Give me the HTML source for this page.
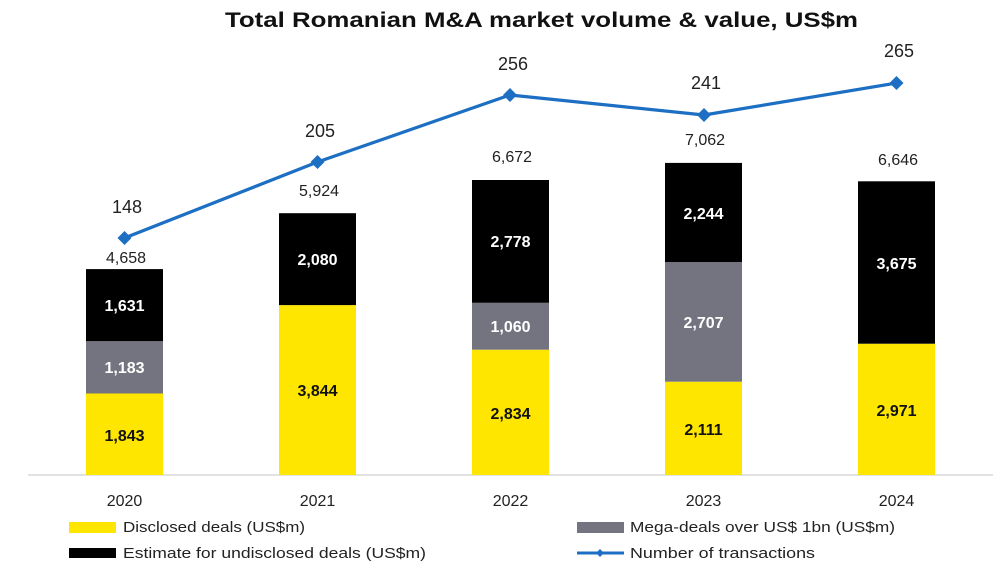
<!DOCTYPE html>
<html>
<head>
<meta charset="utf-8">
<style>
html,body{margin:0;padding:0;background:#fff;}
svg{display:block;}
text{font-family:"Liberation Sans",sans-serif;}
</style>
</head>
<body>
<svg width="1000" height="562" viewBox="0 0 1000 562" xmlns="http://www.w3.org/2000/svg">
<rect width="1000" height="562" fill="#fff"/>
<text x="225" y="27" font-size="21" font-weight="bold" fill="#111" textLength="633" lengthAdjust="spacingAndGlyphs">Total Romanian M&amp;A market volume &amp; value, US$m</text>

<!-- axis -->
<line x1="28" y1="475" x2="993" y2="475" stroke="#d9d9d9" stroke-width="1.5"/>

<!-- 2020 -->
<rect x="86" y="393.5" width="77" height="81.5" fill="#FFE600"/>
<rect x="86" y="341.2" width="77" height="52.3" fill="#747480"/>
<rect x="86" y="269.1" width="77" height="72.1" fill="#000"/>
<!-- 2021 -->
<rect x="279" y="305.1" width="77" height="169.9" fill="#FFE600"/>
<rect x="279" y="213.2" width="77" height="91.9" fill="#000"/>
<!-- 2022 -->
<rect x="472" y="349.7" width="77" height="125.3" fill="#FFE600"/>
<rect x="472" y="302.8" width="77" height="46.9" fill="#747480"/>
<rect x="472" y="180" width="77" height="122.8" fill="#000"/>
<!-- 2023 -->
<rect x="665" y="381.7" width="77" height="93.3" fill="#FFE600"/>
<rect x="665" y="262.1" width="77" height="119.6" fill="#747480"/>
<rect x="665" y="162.9" width="77" height="99.2" fill="#000"/>
<!-- 2024 -->
<rect x="858" y="343.7" width="77" height="131.3" fill="#FFE600"/>
<rect x="858" y="181.3" width="77" height="162.4" fill="#000"/>

<!-- inside labels -->
<g font-size="16" font-weight="bold" text-anchor="middle">
<text x="124.5" y="441" fill="#111">1,843</text>
<text x="124.5" y="373" fill="#fff">1,183</text>
<text x="124.5" y="311" fill="#fff">1,631</text>
<text x="317.5" y="396" fill="#111">3,844</text>
<text x="317.5" y="265" fill="#fff">2,080</text>
<text x="510.5" y="419" fill="#111">2,834</text>
<text x="510.5" y="332" fill="#fff">1,060</text>
<text x="510.5" y="247" fill="#fff">2,778</text>
<text x="703.5" y="435" fill="#111">2,111</text>
<text x="703.5" y="328" fill="#fff">2,707</text>
<text x="703.5" y="219" fill="#fff">2,244</text>
<text x="896.5" y="416" fill="#111">2,971</text>
<text x="896.5" y="269" fill="#fff">3,675</text>
</g>

<!-- totals -->
<g font-size="16" text-anchor="middle" fill="#222">
<text x="126" y="263">4,658</text>
<text x="319" y="196">5,924</text>
<text x="512" y="162">6,672</text>
<text x="705" y="145">7,062</text>
<text x="898" y="165">6,646</text>
</g>

<!-- line -->
<polyline points="124.5,238 317.5,162 510,95 704,115 896.5,83" fill="none" stroke="#1c6fc2" stroke-width="3.2" stroke-linejoin="round"/>
<g fill="#1c6fc2">
<polygon points="124.5,231 131.5,238 124.5,245 117.5,238"/>
<polygon points="317.5,155 324.5,162 317.5,169 310.5,162"/>
<polygon points="510,88 517,95 510,102 503,95"/>
<polygon points="704,108 711,115 704,122 697,115"/>
<polygon points="896.5,76 903.5,83 896.5,90 889.5,83"/>
</g>
<g font-size="18" text-anchor="middle" fill="#222">
<text x="127" y="213">148</text>
<text x="320" y="137">205</text>
<text x="513" y="70">256</text>
<text x="706" y="89">241</text>
<text x="899" y="57">265</text>
</g>

<!-- years -->
<g font-size="16" text-anchor="middle" fill="#222">
<text x="124.5" y="506">2020</text>
<text x="317.5" y="506">2021</text>
<text x="510.5" y="506">2022</text>
<text x="703.5" y="506">2023</text>
<text x="896.5" y="506">2024</text>
</g>

<!-- legend -->
<rect x="69" y="522" width="47" height="11" fill="#FFE600"/>
<text x="123" y="532" font-size="15" fill="#222" textLength="182" lengthAdjust="spacingAndGlyphs">Disclosed deals (US$m)</text>
<rect x="69" y="548" width="47" height="10" fill="#000"/>
<text x="123" y="558" font-size="15" fill="#222" textLength="303" lengthAdjust="spacingAndGlyphs">Estimate for undisclosed deals (US$m)</text>
<rect x="577" y="522" width="47" height="11" fill="#747480"/>
<text x="630" y="532" font-size="15" fill="#222" textLength="265" lengthAdjust="spacingAndGlyphs">Mega-deals over US$ 1bn (US$m)</text>
<line x1="577" y1="553" x2="624" y2="553" stroke="#1c6fc2" stroke-width="3"/>
<polygon points="600,549 604,553 600,557 596,553" fill="#1c6fc2"/>
<text x="630" y="558" font-size="15" fill="#222" textLength="185" lengthAdjust="spacingAndGlyphs">Number of transactions</text>
</svg>
</body>
</html>
